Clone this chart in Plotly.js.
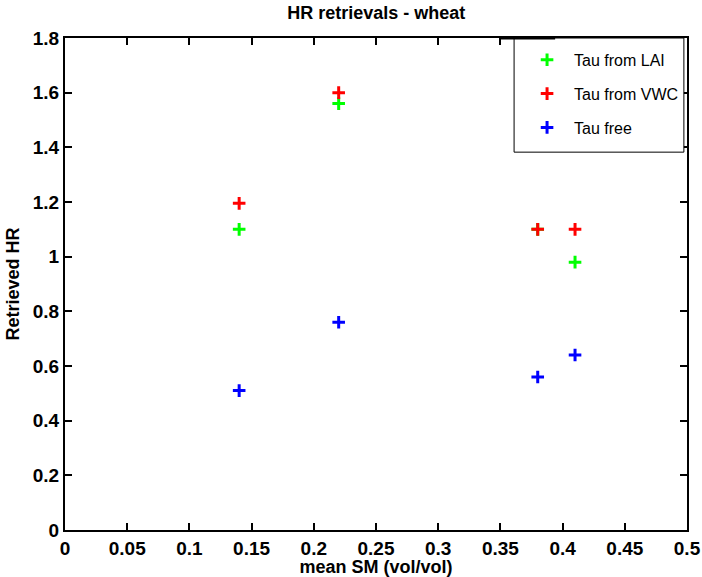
<!DOCTYPE html>
<html>
<head>
<meta charset="utf-8">
<script src="https://cdn.plot.ly/plotly-3.0.1.min.js"></script>
<style>html,body{margin:0;padding:0;background:#fff}#chart{width:702px;height:577px}</style>
</head>
<body>
<div id="chart"></div>
<script>
// Data
const seriesNames = ["Tau from LAI", "Tau from VWC", "Tau free"];
const seriesColors = ["#00ff00", "#ff0000", "#0000ff"];
const meanSM = [0.14, 0.22, 0.38, 0.41];
const hrTauLAI = [1.10, 1.56, 1.10, 0.98];
const hrTauVWC = [1.195, 1.60, 1.10, 1.10];
const hrTauFree = [0.51, 0.76, 0.56, 0.64];
const xTickVals = [0, 0.05, 0.1, 0.15, 0.2, 0.25, 0.3, 0.35, 0.4, 0.45, 0.5];
const xTickText = ["0", "0.05", "0.1", "0.15", "0.2", "0.25", "0.3", "0.35", "0.4", "0.45", "0.5"];
const yTickVals = [0, 0.2, 0.4, 0.6, 0.8, 1.0, 1.2, 1.4, 1.6, 1.8];
const yTickText = ["0", "0.2", "0.4", "0.6", "0.8", "1", "1.2", "1.4", "1.6", "1.8"];

const boldFont = {family: "'Liberation Sans Narrow', 'Arial Narrow', 'Liberation Sans', Arial, sans-serif", size: 19, color: "#000", weight: "bold"};
const ySeries = [hrTauLAI, hrTauVWC, hrTauFree];

const traces = ySeries.map((ys, i) => ({
  type: "scatter",
  mode: "markers",
  x: meanSM,
  y: ys,
  name: seriesNames[i],
  legendgroup: "g" + i,
  marker: {symbol: "cross-thin", size: 9, line: {color: seriesColors[i], width: 3}, color: seriesColors[i]},
  cliponaxis: false
}));

const axisCommon = {
  showgrid: false, zeroline: false,
  showline: true, linecolor: "#000", linewidth: 2, mirror: "ticks",
  ticks: "inside", ticklen: 7, tickwidth: 2, tickcolor: "#000",
  tickfont: boldFont
};

const layout = {
  width: 702, height: 577,
  margin: {l: 65, r: 15, t: 38, b: 47},
  paper_bgcolor: "#fff", plot_bgcolor: "#fff",
  title: {text: "<b>HR retrievals - wheat</b>", x: 0.536, xanchor: "center", y: 0.978, yanchor: "middle",
          font: {family: boldFont.family, size: 18, color: "#000"}},
  xaxis: Object.assign({}, axisCommon, {
    range: [0, 0.5], tickvals: xTickVals, ticktext: xTickText,
    title: {text: "<b>mean SM (vol/vol)</b>", standoff: 2, font: {family: boldFont.family, size: 18, color: "#000"}}
  }),
  yaxis: Object.assign({}, axisCommon, {
    range: [0, 1.8], tickvals: yTickVals, ticktext: yTickText,
    title: {text: "<b>Retrieved HR</b>", standoff: 8, font: {family: boldFont.family, size: 18, color: "#000"}}
  }),
  showlegend: true,
  legend: {
    x: 0.7316, y: 0.99, xanchor: "left", yanchor: "top",
    bgcolor: "rgba(0,0,0,0)", borderwidth: 0,
    traceorder: "grouped", tracegroupgap: 10,
    font: {family: "'Liberation Sans', Arial, sans-serif", size: 16, color: "#000"},
    itemwidth: 44
  },
  shapes: [
    {type: "rect", xref: "paper", yref: "paper", x0: 0.722, x1: 0.995, y0: 0.768, y1: 1.0,
     fillcolor: "#fff", line: {color: "#000", width: 1}, layer: "above"},
    {type: "line", xref: "paper", yref: "paper", x0: 0.70, x1: 0.788, y0: 1.0, y1: 1.0,
     line: {color: "#000", width: 3}, layer: "above"}
  ]
};

Plotly.newPlot("chart", traces, layout, {displayModeBar: false, staticPlot: true});
</script>
</body>
</html>
